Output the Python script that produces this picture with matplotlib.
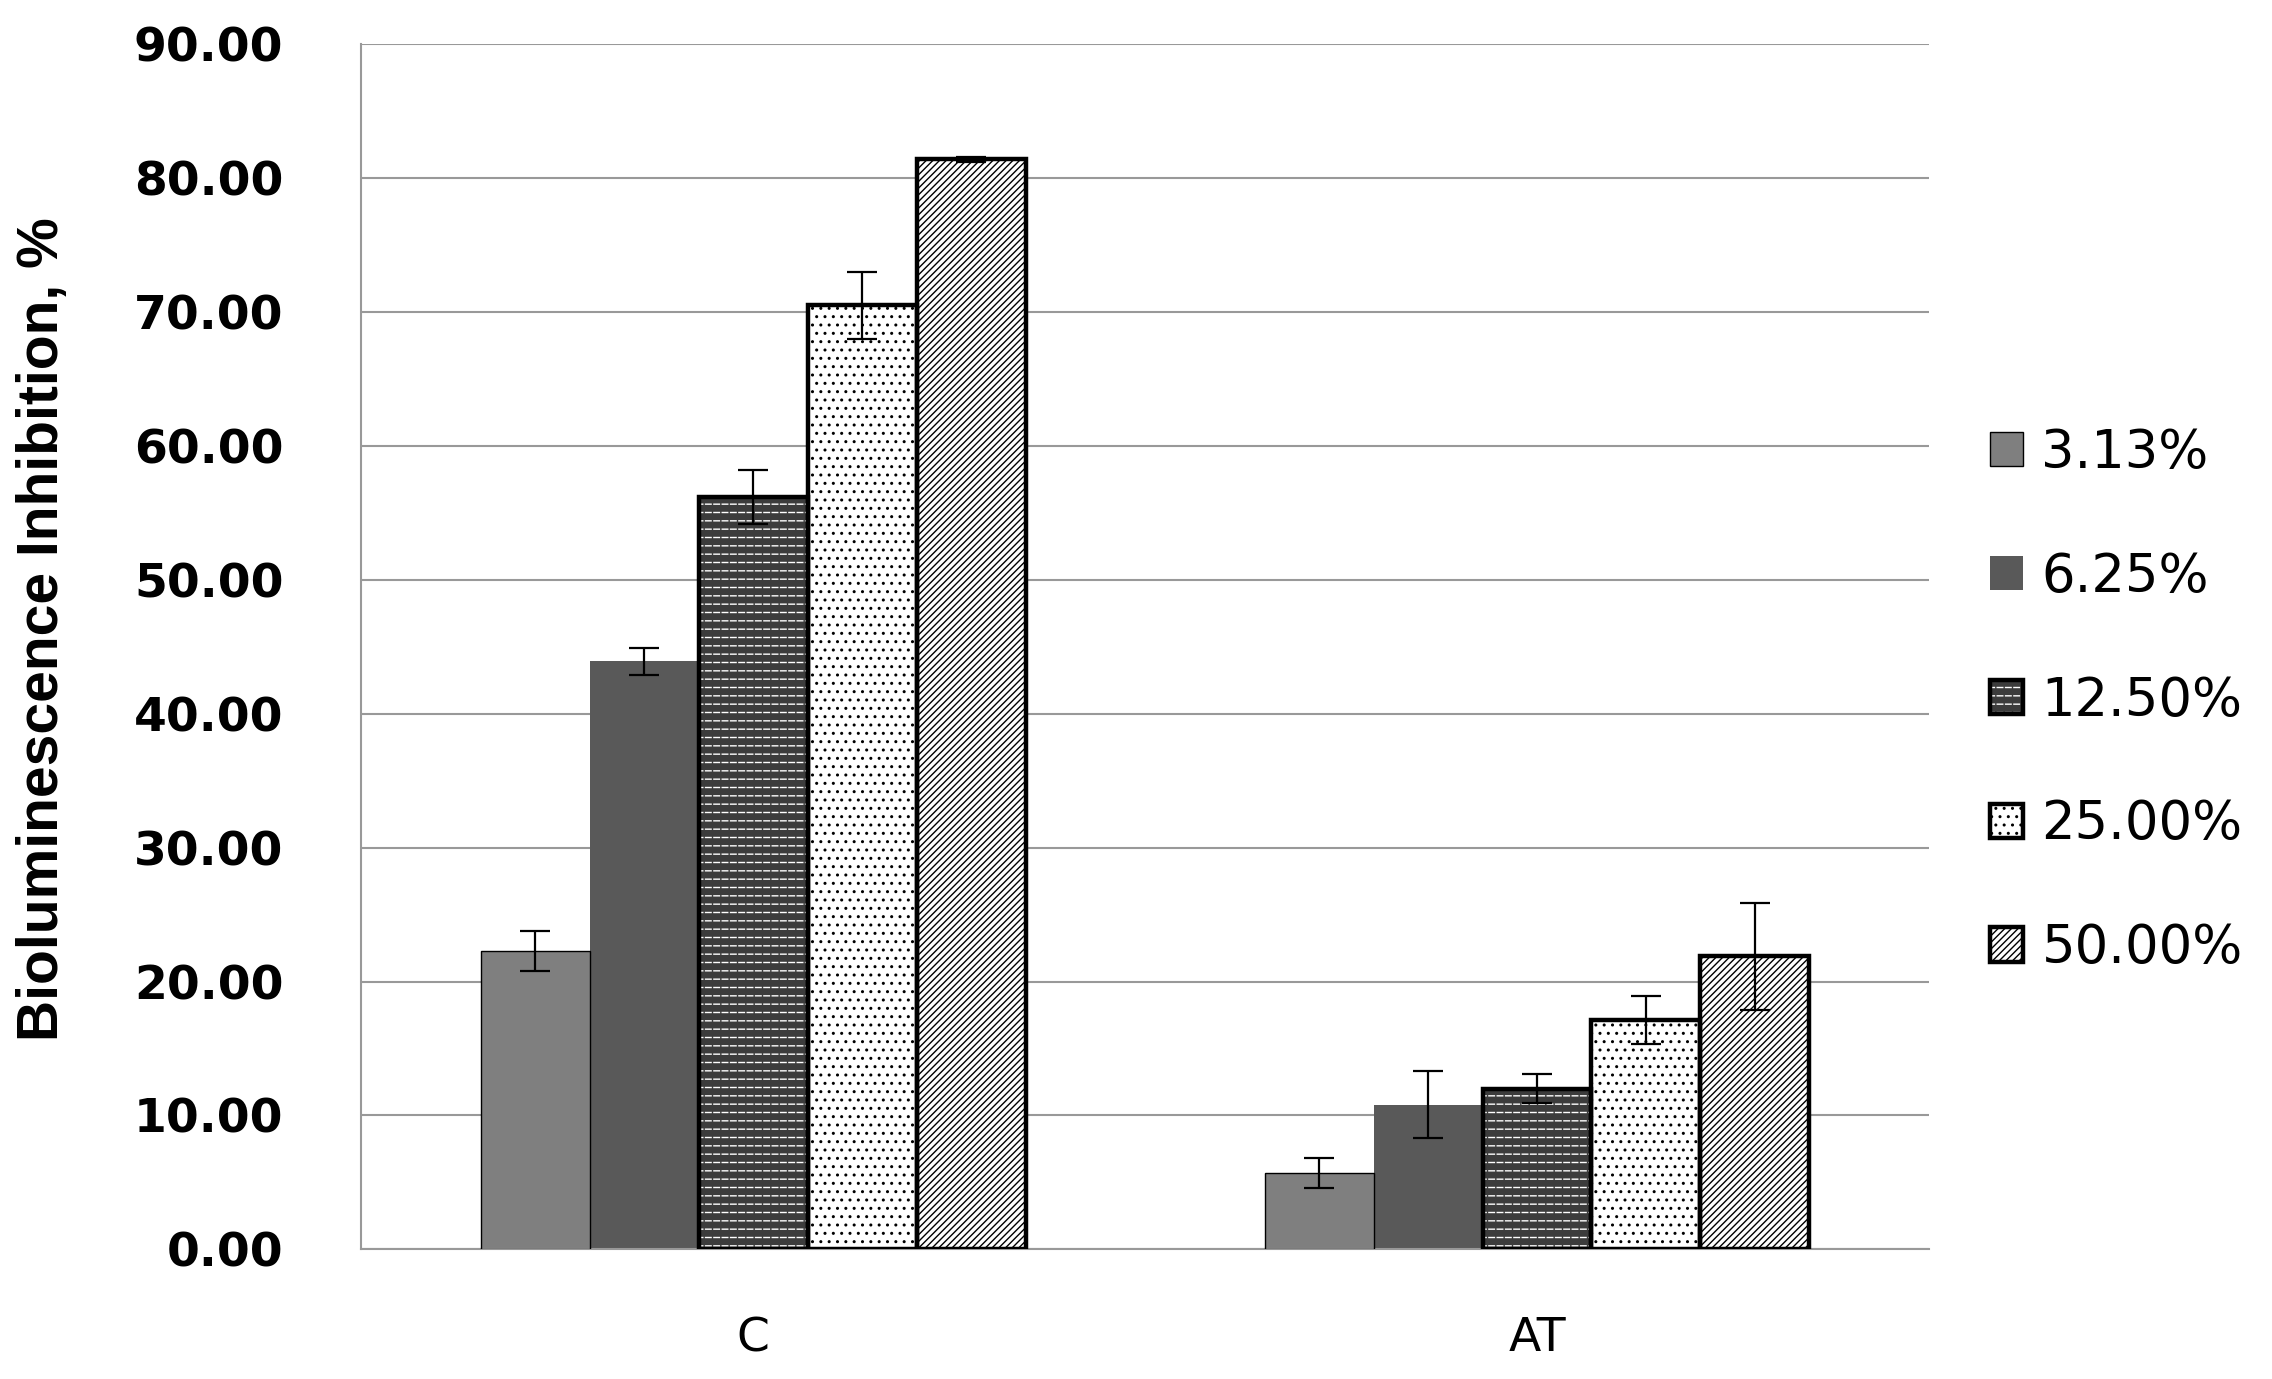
import matplotlib
matplotlib.use('Agg')
import matplotlib.pyplot as plt
from matplotlib.patches import Patch
from matplotlib.legend_handler import HandlerTuple
import numpy as np

categories = ['C', 'AT']
series = ['3.13%', '6.25%', '12.50%', '25.00%', '50.00%']
values = [
    [22.3, 5.7],    # 3.13%
    [43.9, 10.8],   # 6.25%
    [56.2, 12.0],   # 12.50%
    [70.5, 17.1],   # 25.00%
    [81.4, 21.9],   # 50.00%
]
errors = [
    [1.5, 1.1],
    [1.0, 2.5],
    [2.0, 1.1],
    [2.5, 1.8],
    [0.2, 4.0],
]
yticks = [0, 10, 20, 30, 40, 50, 60, 70, 80, 90]

# look of each series: face, hatch, hatch colour, outline width
faces = ['#7f7f7f', '#595959', '#3c3c3c', 'white', 'white']
hatches = [None, None, '--', '..', '/////']
hatch_cols = ['black', 'black', 'white', 'black', 'black']
# second hatch layer to break the white lines into dashes
breaks = [None, None, '||', None, None]
edge_w = [1.0, 0.0, 3.2, 3.2, 3.2]

plt.rcParams['hatch.linewidth'] = 1.0

fig = plt.figure(figsize=(22.72, 13.79), dpi=100)
ax = fig.add_axes([0.159, 0.094, 0.69, 0.874])

x = np.arange(len(categories))
w = 0.139
handles = []
for i, name in enumerate(series):
    pos = x + (i - 2) * w
    hc = hatch_cols[i] if hatches[i] else faces[i]
    ax.bar(pos, values[i], w, color=faces[i], hatch=hatches[i],
           edgecolor=hc, linewidth=0, zorder=2)
    parts = [Patch(facecolor=faces[i], hatch=hatches[i], edgecolor=hc, linewidth=0)]
    if breaks[i]:
        ax.bar(pos, values[i], w, color='none', hatch=breaks[i],
               edgecolor=faces[i], linewidth=0, zorder=2.5)
        parts.append(Patch(facecolor='none', hatch=breaks[i],
                           edgecolor=faces[i], linewidth=0))
    if edge_w[i] > 0:
        ax.bar(pos, values[i], w, color='none', edgecolor='black',
               linewidth=edge_w[i], zorder=3)
        parts.append(Patch(facecolor='none', edgecolor='black', linewidth=edge_w[i]))
    ax.errorbar(pos, values[i], yerr=errors[i], fmt='none', ecolor='black',
                elinewidth=1.6, capsize=10.5, capthick=1.6, zorder=4)
    handles.append(tuple(parts))

ax.set_xlim(-0.5, 1.5)
ax.set_ylim(0, 90)
ax.set_yticks(yticks)
ax.set_yticklabels(['%.2f' % t for t in yticks])
ax.set_xticks(x)
ax.set_xticklabels(categories)
ax.tick_params(axis='y', length=0, pad=56, labelsize=34)
ax.tick_params(axis='x', length=0, pad=48, labelsize=34)
for lab in ax.get_yticklabels():
    lab.set_fontweight('bold')

ax.grid(axis='y', color='#999999', linewidth=1.5, zorder=0)
ax.set_axisbelow(True)
for s in ['top', 'right']:
    ax.spines[s].set_visible(False)
for s in ['left', 'bottom']:
    ax.spines[s].set_color('#999999')
    ax.spines[s].set_linewidth(1.5)

ax.set_ylabel('Bioluminescence Inhibition, %', fontsize=41, fontweight='bold',
              family='Liberation Sans')
ax.yaxis.set_label_coords(-0.186, 0.515)

fig.legend(handles, series, loc='center left', bbox_to_anchor=(0.876, 0.492),
           frameon=False, fontsize=38, handlelength=0.62, handleheight=0.62,
           handletextpad=0.35, labelspacing=1.36, borderpad=0, borderaxespad=0,
           handler_map={tuple: HandlerTuple(ndivide=1, pad=0)})

fig.savefig('out.png', dpi=100)
